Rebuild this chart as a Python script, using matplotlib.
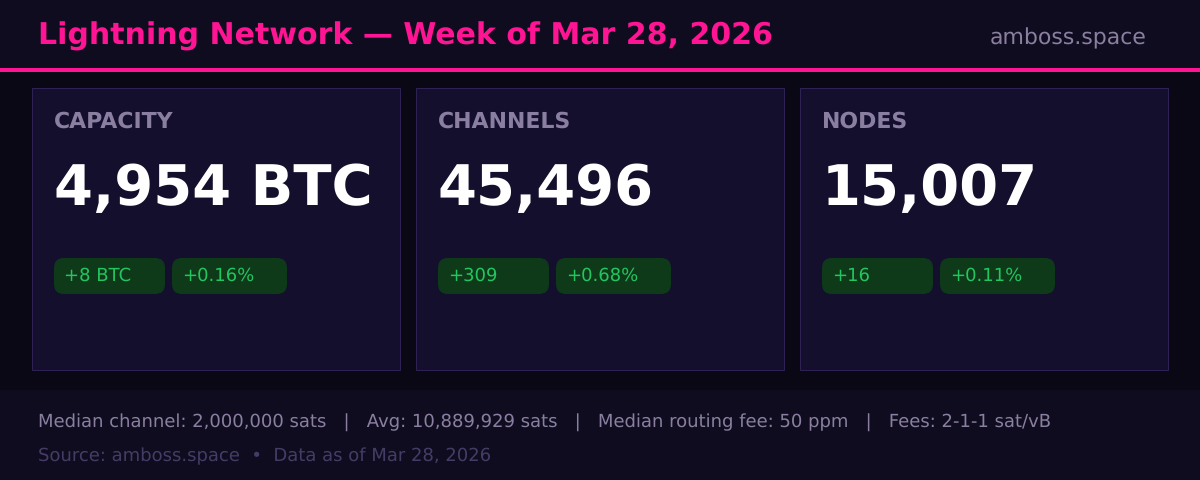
import matplotlib
matplotlib.use("Agg")
import matplotlib.pyplot as plt
from matplotlib.patches import Rectangle, FancyBboxPatch

plt.rcParams["text.hinting"] = "none"

title = "Lightning Network — Week of Mar 28, 2026"
site = "amboss.space"
labels = ["CAPACITY", "CHANNELS", "NODES"]
values = ["4,954 BTC", "45,496", "15,007"]
changes = ["+8 BTC", "+309", "+16"]
percents = ["+0.16%", "+0.68%", "+0.11%"]
stats = "Median channel: 2,000,000 sats   |   Avg: 10,889,929 sats   |   Median routing fee: 50 ppm   |   Fees: 2-1-1 sat/vB"
source = "Source: amboss.space  •  Data as of Mar 28, 2026"

BG = "#0a0814"
PANEL = "#0f0c1f"
CARD = "#130f2d"
EDGE = "#2f2155"
PINK = "#ff1493"
MUTED = "#8a7fa0"
DIM = "#453c66"
GREEN = "#22c55e"
PILL = "#0f3a1a"

fig = plt.figure(figsize=(12, 4.8), dpi=100, facecolor=BG)
ax = fig.add_axes([0, 0, 1, 1])
ax.set_xlim(0, 1200)
ax.set_ylim(480, 0)
ax.axis("off")

# header and footer bands
ax.add_patch(Rectangle((0, 0), 1200, 68, fc=PANEL, ec="none"))
ax.add_patch(Rectangle((0, 68), 1200, 4, fc=PINK, ec="none"))
ax.add_patch(Rectangle((0, 390), 1200, 90, fc=PANEL, ec="none"))

ax.text(38, 45, title, color=PINK, fontsize=21.6, fontweight="bold", va="baseline")
ax.text(1147, 44, site, color=MUTED, fontsize=15.8, ha="right", va="baseline")


def pill(x, w, text):
    ax.add_patch(FancyBboxPatch((x, 258), w, 36, boxstyle="round,pad=0,rounding_size=10",
                                fc=PILL, ec="none"))
    ax.text(x + 9.7, 281, text, color=GREEN, fontsize=13, va="baseline")


for i in range(3):
    x = 32 + i * 384
    ax.add_patch(Rectangle((x, 88), 368, 282, fc=CARD, ec=EDGE, lw=0.72))
    ax.text(x + 22, 127.5, labels[i], color=MUTED, fontsize=15.8, fontweight="bold", va="baseline")
    ax.text(x + 21.7, 205, values[i], color="white", fontsize=40.3, fontweight="bold", va="baseline")
    pill(x + 22, 111, changes[i])
    pill(x + 140, 115, percents[i])

ax.text(38, 428, stats, color=MUTED, fontsize=13, va="baseline")
ax.text(38, 461, source, color=DIM, fontsize=13, va="baseline")

fig.savefig("out.png", dpi=100, facecolor=BG)
